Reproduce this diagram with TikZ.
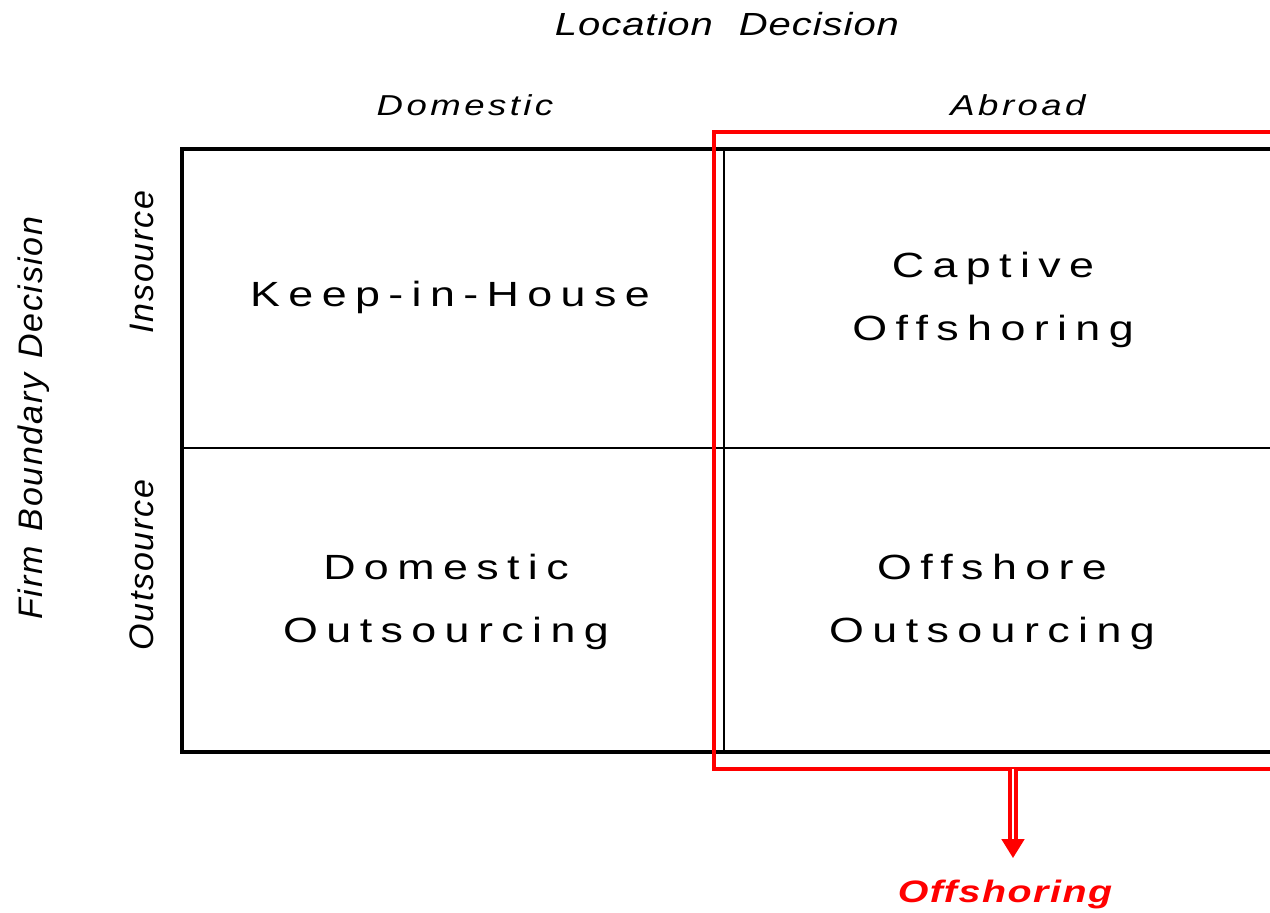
\documentclass[tikz,border=0pt]{standalone}
\usepackage{fontspec}
\setmainfont{Liberation Sans}
\newfontfamily\cellfont[FakeStretch=1.28,LetterSpace=24]{Liberation Sans}
\newfontfamily\headfont[FakeStretch=1.27,LetterSpace=12]{Liberation Sans}
\newfontfamily\locfont[FakeStretch=1.25,LetterSpace=3]{Liberation Sans}
\newfontfamily\sidefont[LetterSpace=5]{Liberation Sans}
\newfontfamily\offfont[FakeStretch=1.27,LetterSpace=5]{Liberation Sans}
\usetikzlibrary{arrows.meta}

\begin{document}
\begin{tikzpicture}[x=0.5pt,y=-0.5pt,
	cell/.style={align=center,inner sep=0pt,font=\cellfont\fontsize{17.5}{31.2}\selectfont},
	head/.style={anchor=base,inner sep=0pt,font=\headfont\itshape\fontsize{14.4}{16}\selectfont},
	side/.style={anchor=base,rotate=90,inner sep=0pt,font=\sidefont\itshape\fontsize{17}{18}\selectfont},
	thickline/.style={line width=2pt},
	thinline/.style={line width=0.7pt},
	redline/.style={red,line width=2pt}]
	\useasboundingbox (0,0) rectangle (1270,913);
	% grid
	\draw[thickline] (1275,149) -- (182,149) -- (182,752) -- (1275,752);
	\draw[thinline] (182,448) -- (1275,448);
	\draw[thinline] (724,149) -- (724,752);
	% offshoring frame
	\draw[redline] (1275,132) -- (714,132) -- (714,769) -- (1275,769);

	\node[anchor=base,inner sep=0pt,font=\locfont\itshape\fontsize{16}{18}\selectfont] (loc) at (727,36) {Location\hspace{7pt} Decision};
	\node[head] (dom) at (465,116) {Domestic};
	\node[head] (abr) at (1018,116) {Abroad};

	\node[side] (firm) at (42,418) {Firm\hspace{2pt} Boundary\hspace{2pt} Decision};
	\node[side] (ins) at (153,262) {Insource};
	\node[side] (outs) at (153,565) {Outsource};

	\node[cell] (keep) at (450,297) {Keep-in-House};
	\node[cell] (captive) at (993,300) {Captive\\Offshoring};
	\node[cell] (domout) at (446,602) {Domestic\\Outsourcing};
	\node[cell] (offout) at (992,602) {Offshore\\Outsourcing};

	\node[anchor=base,inner sep=0pt,text=red,font=\offfont\bfseries\itshape\fontsize{15.5}{18}\selectfont] (offsh) at (1005,903) {Offshoring};
	\coordinate (framebot) at (1013,769);
	\draw[red,line width=2.2pt,double=white,double distance=1pt,shorten >=11pt,
		-{Triangle[width=11pt,length=9.5pt]}] (framebot) -- (framebot |- offsh.north);
\end{tikzpicture}
\end{document}
